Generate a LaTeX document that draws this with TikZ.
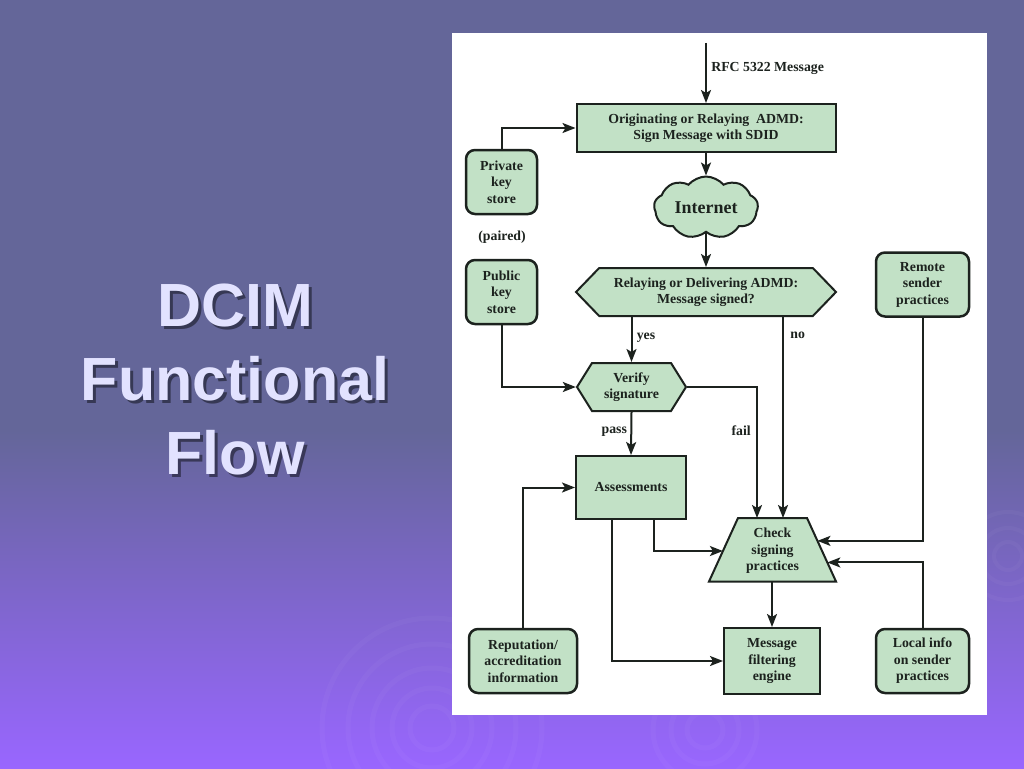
\documentclass[tikz,border=0pt]{standalone}
\usepackage{fontspec}
\setmainfont{Liberation Serif}
\newfontfamily\titlefont{Liberation Sans}
\usetikzlibrary{arrows.meta,calc,shapes.symbols}
\definecolor{boxgreen}{HTML}{C2E1C6}
\definecolor{boxline}{HTML}{1C221E}
\definecolor{bgtop}{HTML}{646699}
\definecolor{bgbot}{HTML}{9966FF}
\definecolor{titletext}{HTML}{E2E2FF}

\begin{document}
\begin{tikzpicture}[x=1pt,y=-1pt,
        every node/.style={font=\fontsize{13.8}{16.5}\selectfont\bfseries,text=boxline},
        box/.style={draw=boxline,fill=boxgreen,line width=2pt,align=center,inner sep=2pt},
        store/.style={box,rounded corners=9pt,line width=2.5pt,minimum width=71pt,minimum height=64pt},
        hexa/.style={box,signal,signal to=west and east,signal pointer angle=#1},
        flow/.style={draw=boxline,line width=2pt,-{Stealth[length=13pt,width=10pt,inset=3pt]}},
        titletxt/.style={font=\titlefont\fontsize{61}{74}\selectfont\bfseries,align=center}]
            \useasboundingbox (0,0) rectangle (1024,768);
            \fill[bgtop] (0,0) rectangle (1024,431);
            \shade[top color=bgtop,bottom color=bgbot] (0,430) rectangle (1024,768);
            \foreach \r in {22,40,60,84,110} \draw[white,opacity=.03,line width=5pt] (432,728) circle[radius=\r pt];
            \foreach \r in {18,34,52} \draw[white,opacity=.03,line width=5pt] (705,730) circle[radius=\r pt];
            \foreach \r in {14,28,44} \draw[white,opacity=.03,line width=4pt] (1008,556) circle[radius=\r pt];

            \draw (238,382.5) node[titletxt,text=black,opacity=.45] (shadow) {DCIM\\Functional\\Flow};
            \draw (235,379.5) node[titletxt,text=titletext] (title) {DCIM\\Functional\\Flow};

            \fill[white] (452,33) rectangle (987,715);

            \draw (706,128) node[box,minimum width=259pt,minimum height=48pt] (orig) {Originating or Relaying\ \ ADMD:\\Sign Message with SDID};
            \draw (706,207.5) node[box,cloud,cloud puffs=9,cloud puff arc=100,aspect=1.9,minimum width=104pt,minimum height=58pt,font=\fontsize{18}{20}\selectfont\bfseries] (net) {Internet};
            \draw (706,292) node[hexa=92,minimum width=260pt,minimum height=48pt] (sig) {Relaying or Delivering ADMD:\\Message signed?};
            \draw (631.5,387) node[hexa=116,minimum width=109pt,minimum height=48pt] (ver) {Verify\\signature};
            \draw (631,487.5) node[box,minimum width=110pt,minimum height=63pt] (asm) {Assessments};
            \coordinate (chktl) at (738,518);
            \coordinate (chktr) at (807,518);
            \coordinate (chkbr) at (836,581.5);
            \coordinate (chkbl) at (709,581.5);
            \draw[box] (chktl) -- (chktr) -- (chkbr) -- (chkbl) -- cycle;
            \draw (772.5,551) node[align=center,inner sep=0pt] (chk) {Check\\signing\\practices};
            \draw (772,661) node[box,minimum width=96pt,minimum height=66pt] (flt) {Message\\filtering\\engine};
            \draw (501.5,182) node[store] (priv) {Private\\key\\store};
            \draw (501.5,292) node[store] (pub) {Public\\key\\store};
            \draw (922.5,284.5) node[store,minimum width=93pt] (rsp) {Remote\\sender\\practices};
            \draw (523,661) node[store,minimum width=108pt] (rep) {Reputation/\\accreditation\\information};
            \draw (922.5,661) node[store,minimum width=93pt] (lsp) {Local info\\on sender\\practices};
            \draw (502,237) node (paired) {(paired)};
            \coordinate (rfc) at (706,43);
            \coordinate (nocol) at (783,0);
            \coordinate (failcol) at (757,0);

            \draw[flow] (rfc) -- (orig.north) node[pos=.43,right=1pt] (rfclbl) {RFC 5322 Message};
            \draw[flow] (priv.north) |- (orig.west);
            \draw[flow] (orig.south) -- (orig.south |- net.north);
            \draw[flow] (net.south -| sig.north) -- (sig.north);
            \draw[flow] (pub.south) |- (ver.west);
            \draw[flow] (sig.south -| ver.north) -- (ver.north) node[pos=.46,right=1pt] (yes) {yes};
            \draw[flow] (sig.south -| nocol) -- (chktl -| nocol) node[pos=.09,right=3pt] (no) {no};
            \draw[flow] (ver.east) -| (chktl -| failcol) node[pos=.665,left=2pt] (fail) {fail};
            \draw[flow] (ver.south) -- (asm.north) node[pos=.47,left=0pt] (pass) {pass};
            \draw[flow] (rep.north) |- (asm.west);
            \draw[flow] ([xshift=23pt]asm.south) |- ($(chktl)!.52!(chkbl)$);
            \draw[flow] ([xshift=-19pt]asm.south) |- (flt.west);
            \draw[flow] (rsp.south) |- ($(chktr)!.36!(chkbr)$);
            \draw[flow] (lsp.north) |- ($(chktr)!.7!(chkbr)$);
            \draw[flow] (chkbl -| flt.north) -- (flt.north);
        \end{tikzpicture}
\end{document}
